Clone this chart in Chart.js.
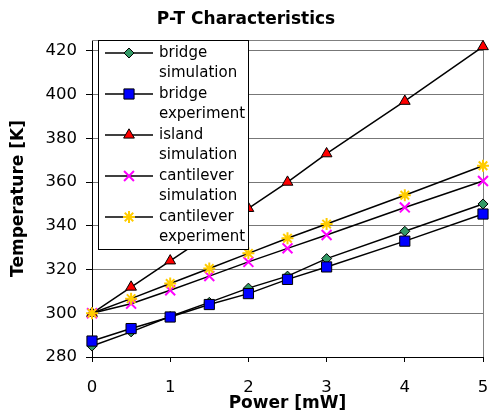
<!DOCTYPE html>
<html>
<head>
<meta charset="utf-8">
<script src="https://cdn.jsdelivr.net/npm/chart.js@4/dist/chart.umd.min.js"></script>
<style>
html,body{margin:0;padding:0;background:#fff;}
#wrap{width:492px;height:415px;position:relative;}
</style>
</head>
<body>
<div id="wrap"><canvas id="c" width="492" height="415"></canvas></div>
<script>
const powers = [0, 0.5, 1, 1.5, 2, 2.5, 3, 4, 5];
const bridgeSimulation = [285, 291.5, 298.5, 305, 311.5, 317, 325, 337.5, 350];
const bridgeExperiment = [287.3, 293, 298.3, 304, 309, 315.5, 321.2, 333, 345.4];
const islandSimulation = [300, 312, 324, 336, 348, 360, 373, 397, 422];
const cantileverSimulation = [300, 304.4, 310.5, 317, 323.5, 329.7, 335.8, 348.4, 360.5];
const cantileverExperiment = [300, 306.7, 313.6, 320.5, 327.4, 334.3, 340.8, 354, 367.5];
const seriesNames = [["bridge","simulation"],["bridge","experiment"],["island","simulation"],["cantilever","simulation"],["cantilever","experiment"]];
const yTicks = [280, 300, 320, 340, 360, 380, 400, 420];
const xTicks = [0, 1, 2, 3, 4, 5];

const FONT = "'DejaVu Sans', 'Liberation Sans', Arial, sans-serif";
function pts(arr){ return powers.map((p,i)=>({x:p,y:arr[i]})); }

const styles = [
  {pointStyle:'rectRot', radius:5, bg:'#339966', border:'#000', bw:1, order:5},
  {pointStyle:'rect', radius:7.2, bg:'#0000ff', border:'#000', bw:1, order:4},
  {pointStyle:'triangle', radius:6.2, bg:'#ff0000', border:'#000', bw:1, order:3},
  {pointStyle:'crossRot', radius:7, bg:'#ff00ff', border:'#ff00ff', bw:2, order:2},
  {pointStyle:'star', radius:6, bg:'#ffcc00', border:'#ffcc00', bw:2, order:1}
];
const dataArrays = [bridgeSimulation, bridgeExperiment, islandSimulation, cantileverSimulation, cantileverExperiment];

const datasets = dataArrays.map((arr,i)=>({
  label: seriesNames[i].join(' '),
  data: pts(arr),
  borderColor:'#000',
  borderWidth:1.5,
  pointStyle: styles[i].pointStyle,
  pointRadius: styles[i].radius,
  pointHoverRadius: styles[i].radius,
  pointBackgroundColor: styles[i].bg,
  pointBorderColor: styles[i].border,
  pointBorderWidth: styles[i].bw,
  order: styles[i].order,
  tension:0,
  clip:false
}));

const frame = {
  id:'frame',
  beforeDatasetsDraw(chart){
    const a = chart.chartArea, ctx = chart.ctx;
    ctx.save();
    ctx.strokeStyle = '#808080';
    ctx.lineWidth = 1;
    ctx.beginPath();
    ctx.moveTo(a.left, a.top+0.5);
    ctx.lineTo(a.right+0.5, a.top+0.5);
    ctx.lineTo(a.right+0.5, a.bottom);
    ctx.stroke();
    ctx.restore();
  }
};

const boxLegend = {
  id:'boxLegend',
  afterDatasetsDraw(chart){
    const ctx = chart.ctx;
    const L = 98, T = 40, R = 248, B = 249;
    ctx.save();
    ctx.fillStyle = '#fff';
    ctx.fillRect(L, T, R-L, B-T);
    ctx.strokeStyle = '#000';
    ctx.lineWidth = 1;
    ctx.strokeRect(L+0.5, T+0.5, R-L, B-T);
    ctx.font = '15px ' + FONT;
    ctx.textBaseline = 'middle';
    ctx.textAlign = 'left';
    for (let i=0;i<5;i++){
      const y = 53 + i*41;
      ctx.strokeStyle = '#000';
      ctx.lineWidth = 1.5;
      ctx.beginPath();
      ctx.moveTo(105, y); ctx.lineTo(153, y);
      ctx.stroke();
      ctx.fillStyle = styles[i].bg;
      ctx.strokeStyle = styles[i].border;
      ctx.lineWidth = styles[i].bw;
      Chart.helpers.drawPoint(ctx, {pointStyle: styles[i].pointStyle, radius: styles[i].radius, rotation:0, borderWidth: styles[i].bw}, 129, y);
      ctx.fillStyle = '#000';
      ctx.fillText(seriesNames[i][0], 159, y);
      ctx.fillText(seriesNames[i][1], 159, y+20.5);
    }
    ctx.restore();
  }
};

new Chart(document.getElementById('c'), {
  type:'line',
  data:{datasets},
  plugins:[frame, boxLegend],
  options:{
    responsive:false,
    animation:false,
    devicePixelRatio:1,
    layout:{padding:{left:6,right:6,top:0,bottom:0}},
    plugins:{
      legend:{display:false},
      tooltip:{enabled:false},
      title:{display:true, text:'P-T Characteristics', color:'#000',
        font:{family:FONT, size:17, weight:'bold', lineHeight:1.2},
        padding:{top:9.8,bottom:9.8}}
    },
    scales:{
      x:{
        type:'linear', min:0, max:5,
        afterBuildTicks(s){ s.ticks = xTicks.map(v=>({value:v})); },
        afterFit(s){ s.height = 58; s.paddingLeft = 0; s.paddingRight = 0; },
        grid:{drawOnChartArea:false, drawTicks:true, tickLength:5, color:'#000'},
        border:{color:'#000', width:1},
        ticks:{color:'#000', font:{family:FONT, size:16.5}, padding:16, maxRotation:0},
        title:{display:true, text:'Power [mW]', color:'#000',
          font:{family:FONT, size:17, weight:'bold', lineHeight:1.2}, padding:{top:0,bottom:1}}
      },
      y:{
        type:'linear', min:280, max:425,
        afterBuildTicks(s){ s.ticks = yTicks.map(v=>({value:v})); },
        afterFit(s){ s.width = 86; s.paddingTop = 0; s.paddingBottom = 0; },
        grid:{color:'#777', drawTicks:true, tickLength:6, tickColor:'#000'},
        border:{color:'#000', width:1},
        ticks:{color:'#000', font:{family:FONT, size:16.5}, padding:9},
        title:{display:true, text:'Temperature [K]', color:'#000',
          font:{family:FONT, size:17, weight:'bold', lineHeight:1.2}, padding:{top:2.8,bottom:0}}
      }
    }
  }
});
</script>
</body>
</html>
